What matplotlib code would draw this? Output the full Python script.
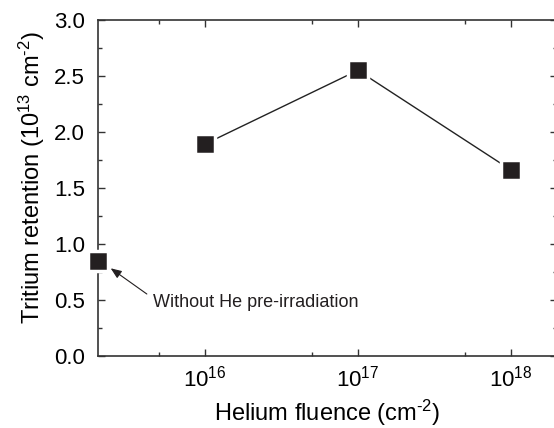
import matplotlib.pyplot as plt
from matplotlib.ticker import FixedLocator, NullFormatter, FixedFormatter

plt.rcParams["font.family"] = ["Liberation Sans", "DejaVu Sans"]
plt.rcParams["mathtext.fontset"] = "custom"
plt.rcParams["mathtext.rm"] = "Liberation Sans"
plt.rcParams["mathtext.default"] = "regular"

# data
fluence = [1e16, 1e17, 1e18]
retention = [1.89, 2.55, 1.66]
ref_fluence = 2e15  # plotted on the left axis (no He)
ref_retention = 0.85

xticks = [1e16, 1e17, 1e18]
xticklabels = ["$10^{16}$", "$10^{17}$", "$10^{18}$"]
xminor = [5e15, 5e16, 5e17]
yticks = [0.0, 0.5, 1.0, 1.5, 2.0, 2.5, 3.0]
yminor = [0.25, 0.75, 1.25, 1.75, 2.25, 2.75]

fig = plt.figure(figsize=(5.54, 4.28), dpi=100)
ax = fig.add_axes([97.7 / 554, 72.3 / 428, 459.3 / 554, 335.7 / 428])

ax.plot(fluence, retention, color="#222222", lw=1.0, zorder=2)
ax.plot(fluence, retention, ls="none", marker="s", ms=14, mfc="#231f20",
        mec="white", mew=2.5, zorder=3)
ax.plot([ref_fluence], [ref_retention], ls="none", marker="s", ms=14,
        mfc="#231f20", mec="white", mew=2.5, zorder=3, clip_on=False)

ax.set_xscale("log")
ax.set_xlim(2e15, 2e18)
ax.set_ylim(0, 3.0)

ax.xaxis.set_major_locator(FixedLocator(xticks))
ax.xaxis.set_major_formatter(FixedFormatter(xticklabels))
ax.xaxis.set_minor_locator(FixedLocator(xminor))
ax.xaxis.set_minor_formatter(NullFormatter())
ax.set_yticks(yticks)
ax.set_yticklabels([f"{v:.1f}" for v in yticks])
ax.yaxis.set_minor_locator(FixedLocator(yminor))

ax.tick_params(which="both", direction="in", top=True, right=True,
               labelsize=16, color="#333333", width=1.0)
ax.tick_params(which="major", length=5)
ax.tick_params(which="minor", length=3)
ax.tick_params(axis="x", pad=7)
ax.tick_params(axis="y", pad=9)
for s in ax.spines.values():
    s.set_linewidth(1.2)
    s.set_color("#333333")

ax.set_xlabel("Helium fluence (cm$^{\u2010 2}$)", fontsize=17, labelpad=5)
ax.set_ylabel("Tritium retention (10$^{13}$ cm$^{\u2010 2}$)", fontsize=17)
ax.yaxis.set_label_coords(-0.111, 0.532)

ax.annotate("Without He pre-irradiation", xy=(110.7, 428 - 268.3),
            xycoords="figure pixels", xytext=(153, 428 - 307),
            textcoords="figure pixels", fontsize=13, color="#231f20",
            arrowprops=dict(arrowstyle="-|>,head_length=0.5,head_width=0.2",
                            color="#231f20", lw=0.8, shrinkA=0, shrinkB=0,
                            relpos=(-0.03, 1.0)))

fig.savefig("out.png", dpi=100)
